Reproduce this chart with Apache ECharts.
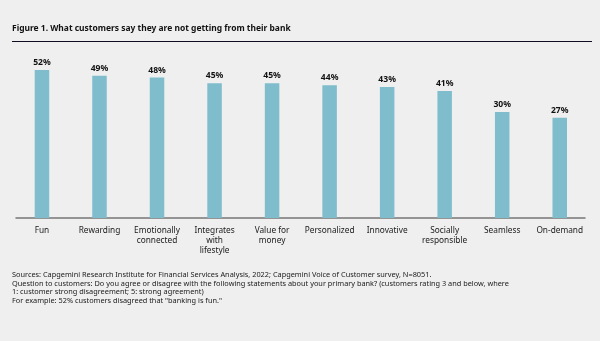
<!DOCTYPE html>
<html>
<head>
<meta charset="utf-8">
<script src="https://cdn.jsdelivr.net/npm/echarts@6/dist/echarts.min.js"></script>
<style>
html,body{margin:0;padding:0;background:#efefef;}
#chart{width:600px;height:341px;}
</style>
</head>
<body>
<div id="chart"></div>
<script>
const categories = ['Fun','Rewarding','Emotionally\nconnected','Integrates\nwith\nlifestyle','Value for\nmoney','Personalized','Innovative','Socially\nresponsible','Seamless','On-demand'];
const values = [52,49,48,45,45,44,43,41,30,27];
const titleText = 'Figure 1. What customers say they are not getting from their bank';
const footerText = 'Sources: Capgemini Research Institute for Financial Services Analysis, 2022; Capgemini Voice of Customer survey, N=8051.\nQuestion to customers: Do you agree or disagree with the following statements about your primary bank? (customers rating 3 and below, where\n1: customer strong disagreement; 5: strong agreement)\nFor example: 52% customers disagreed that "banking is fun."';
const axisMin = -25.6;
const axisMax = 55;

const FONT = '"Noto Sans", sans-serif';
const chart = echarts.init(document.getElementById('chart'), null, {renderer:'canvas'});
chart.setOption({
  backgroundColor:'#efefef',
  animation:false,
  title:[
    {text:titleText,left:12,top:24.5,padding:0,textStyle:{fontFamily:FONT,fontSize:8.45,fontWeight:'bold',color:'#111'}},
    {text:footerText,left:12,top:270.7,padding:0,textStyle:{fontFamily:FONT,fontSize:7.35,fontWeight:'normal',color:'#1a1a1a',lineHeight:8.5}}
  ],
  graphic:[
    {type:'line',shape:{x1:12,y1:41.5,x2:592,y2:41.5},style:{stroke:'#100c22',lineWidth:1}}
  ],
  grid:[
    {left:13.2,width:575.3,top:64.2,bottom:123,containLabel:false},
    {left:16,right:15,top:64.2,bottom:123,containLabel:false}
  ],
  xAxis:[
    {type:'category',gridIndex:0,data:categories,
     axisLine:{show:false},axisTick:{show:false},
     axisLabel:{interval:0,margin:8,fontFamily:FONT,fontSize:8.3,color:'#1a1a1a',lineHeight:10}},
    {type:'category',gridIndex:1,data:categories,
     axisLine:{show:true,onZero:false,lineStyle:{color:'#777',width:1.5}},axisTick:{show:false},axisLabel:{show:false}}
  ],
  yAxis:[
    {type:'value',gridIndex:0,min:axisMin,max:axisMax,startValue:axisMin,show:false,splitLine:{show:false}},
    {type:'value',gridIndex:1,min:axisMin,max:axisMax,show:false,splitLine:{show:false}}
  ],
  series:[{
    type:'bar',xAxisIndex:0,yAxisIndex:0,data:values,barWidth:14.5,
    itemStyle:{color:'#7fbdcd'},
    label:{show:true,position:'top',distance:3,formatter:'{c}%',fontFamily:FONT,fontSize:8.6,fontWeight:'bold',color:'#111'}
  }]
});
</script>
</body>
</html>
